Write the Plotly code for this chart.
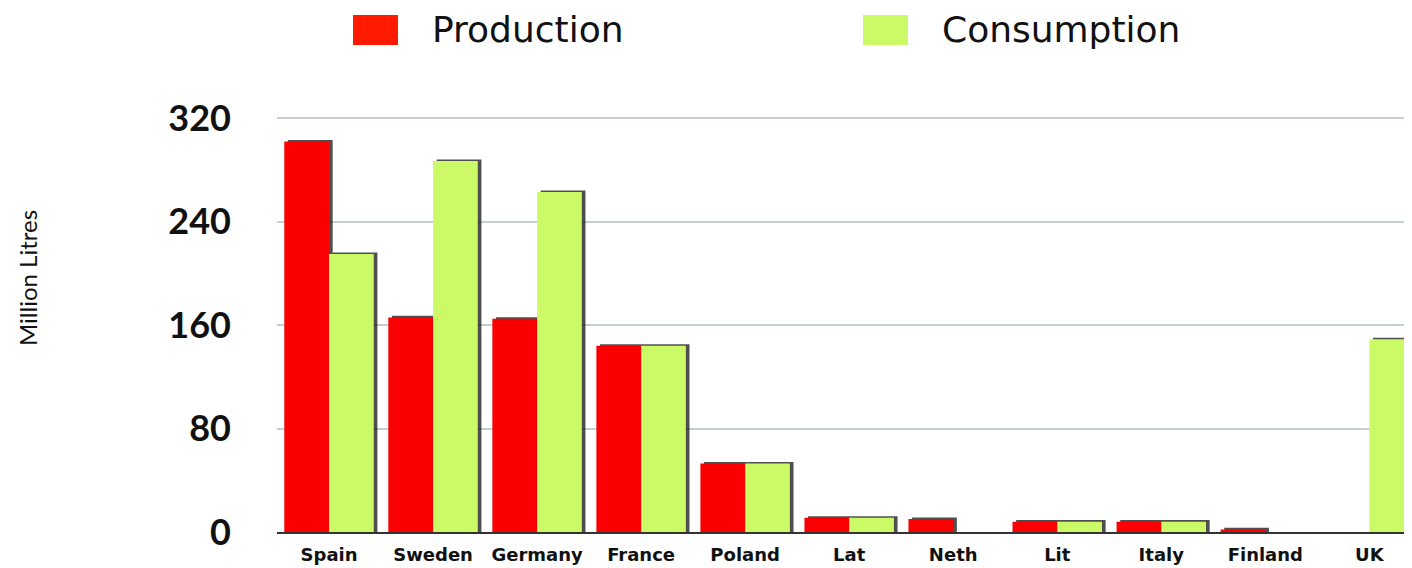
import plotly.graph_objects as go

countries = ["Spain", "Sweden", "Germany", "France", "Poland", "Lat", "Neth", "Lit", "Italy", "Finland", "UK"]
production = [302, 166, 165, 144, 53, 11, 10, 8, 8, 2, 0]
consumption = [215, 287, 263, 144, 53, 11, 0, 8, 8, 0, 149]
y_ticks = [0, 80, 160, 240, 320]

RED = "#fb0000"
GREEN = "#ccfa66"
W = 0.43
SH = 0.035

fig = go.Figure()
# shadow traces
for vals, off in [(production, -W), (consumption, 0)]:
    fig.add_trace(go.Bar(
        x=countries, y=[v + 1.2 if v > 0 else 0 for v in vals], width=W, offset=off + SH,
        marker=dict(color="rgba(20,20,20,0.75)", line=dict(width=0)),
        showlegend=False, hoverinfo="skip"))
fig.add_trace(go.Bar(x=countries, y=production, width=W, offset=-W, name="Production",
                     marker=dict(color=RED, line=dict(width=0))))
fig.add_trace(go.Bar(x=countries, y=consumption, width=W, offset=0, name="Consumption",
                     marker=dict(color=GREEN, line=dict(width=0))))

# page body adds 8px margin; plot area at absolute x 277-1412, y 117-532
fig.update_layout(
    width=1404, height=560,
    margin=dict(l=269, r=0, t=109, b=36),
    barmode="overlay",
    plot_bgcolor="white", paper_bgcolor="white",
    showlegend=False,
    font=dict(family="Lato, sans-serif", color="#111"),
)
fig.update_xaxes(
    range=[-0.5, 10.41], showgrid=False, showline=True, linecolor="#333", linewidth=2,
    ticks="", ticklabelstandoff=5,
    tickfont=dict(size=18, family="DejaVu Sans", color="#111", weight="bold"),
)
fig.update_yaxes(
    range=[0, 321], tickvals=y_ticks, showgrid=True, gridcolor="#c5d0d0", gridwidth=1.5,
    zeroline=False, showline=False, ticks="", ticklabelstandoff=45,
    tickfont=dict(size=36, family="Lato", color="#111", weight="bold"),
)
PH = 415
# legend built from shapes + text
fig.add_shape(type="rect", xref="paper", yref="paper", x0=(353-277)/1135, x1=(398-277)/1135,
              y0=(532-45)/PH, y1=(532-15)/PH, fillcolor="#ff1a00", line=dict(width=0))
fig.add_shape(type="rect", xref="paper", yref="paper", x0=(863-277)/1135, x1=(908-277)/1135,
              y0=(532-45)/PH, y1=(532-15)/PH, fillcolor=GREEN, line=dict(width=0))
fig.add_annotation(text="Production", xref="paper", yref="paper", x=(430-277)/1135, y=(532-30)/PH,
                   xanchor="left", yanchor="middle", showarrow=False,
                   font=dict(size=36, family="DejaVu Sans", color="#111"))
fig.add_annotation(text="Consumption", xref="paper", yref="paper", x=(940-277)/1135, y=(532-30)/PH,
                   xanchor="left", yanchor="middle", showarrow=False,
                   font=dict(size=36, family="DejaVu Sans", color="#111"))
fig.add_annotation(text="Million Litres", xref="paper", yref="paper", x=(27-277)/1135, y=(532-278)/PH,
                   xanchor="center", yanchor="middle", textangle=-90, showarrow=False,
                   font=dict(size=24, family="Liberation Sans Narrow, Lato", color="#111"))

fig.write_html("out.html")
